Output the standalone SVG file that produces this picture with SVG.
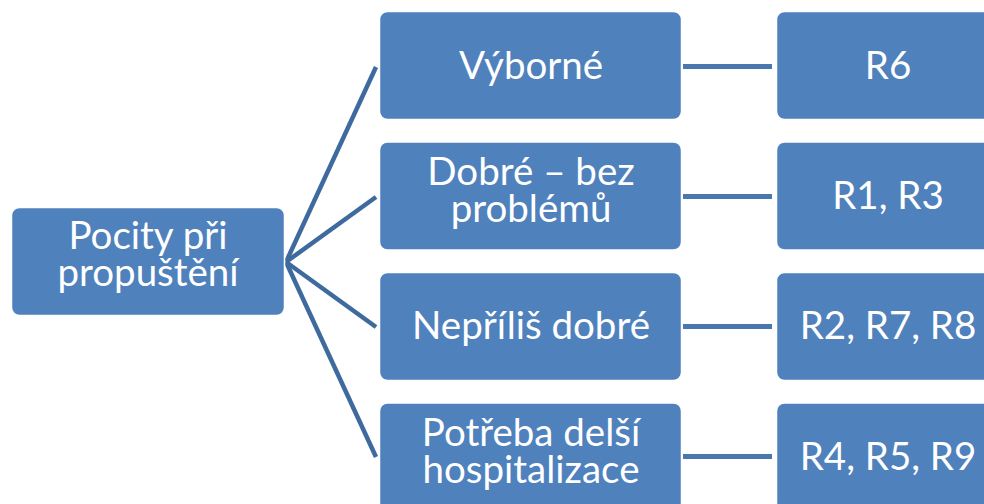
<svg xmlns="http://www.w3.org/2000/svg" width="984" height="504" viewBox="0 0 984 504">
  <style>
    .box { fill: #4f81bd; stroke: #ffffff; stroke-width: 1.5; }
    .lbl { fill: #ffffff; font-family: Lato, "Liberation Sans", sans-serif; font-size: 38.5px; text-anchor: middle; }
    .fan { stroke: #3e6a9d; stroke-width: 4.5; fill: none; stroke-linecap: butt; }
    .link { stroke: #4a77ae; stroke-width: 5; fill: none; }
  </style>
  <rect width="984" height="504" fill="#ffffff"/>

  <!-- connectors -->
  <g id="connectors">
    <line class="fan" x1="286" y1="262" x2="376" y2="67"/>
    <line class="fan" x1="286" y1="262" x2="376" y2="197"/>
    <line class="fan" x1="286" y1="262" x2="376" y2="327"/>
    <line class="fan" x1="286" y1="262" x2="376" y2="457"/>
    <line class="link" x1="683" y1="66.5" x2="772" y2="66.5"/>
    <line class="link" x1="683" y1="196.5" x2="772" y2="196.5"/>
    <line class="link" x1="683" y1="326.5" x2="772" y2="326.5"/>
    <line class="link" x1="683" y1="456.5" x2="772" y2="456.5"/>
  </g>

  <!-- root -->
  <g id="root">
    <rect class="box" x="11.5" y="207.5" width="273" height="108" rx="8"/>
    <text class="lbl" x="148" y="249">Pocity při<tspan x="148" dy="37">propuštění</tspan></text>
  </g>

  <!-- categories -->
  <g id="cat-vyborne">
    <rect class="box" x="379.5" y="11.5" width="302" height="108" rx="8"/>
    <text class="lbl" x="531" y="79">Výborné</text>
  </g>
  <g id="cat-dobre">
    <rect class="box" x="379.5" y="142" width="302" height="108" rx="8"/>
    <text class="lbl" x="531" y="185">Dobré – bez<tspan x="531" dy="37">problémů</tspan></text>
  </g>
  <g id="cat-neprilis">
    <rect class="box" x="379.5" y="272.5" width="302" height="108" rx="8"/>
    <text class="lbl" x="531" y="339">Nepříliš dobré</text>
  </g>
  <g id="cat-potreba">
    <rect class="box" x="379.5" y="403" width="302" height="108" rx="8"/>
    <text class="lbl" x="531" y="446">Potřeba delší<tspan x="531" dy="37">hospitalizace</tspan></text>
  </g>

  <!-- respondents -->
  <g id="resp-1">
    <rect class="box" x="776.5" y="11.5" width="230" height="108" rx="8"/>
    <text class="lbl" x="888" y="79">R6</text>
  </g>
  <g id="resp-2">
    <rect class="box" x="776.5" y="142" width="230" height="108" rx="8"/>
    <text class="lbl" x="888" y="209">R1, R3</text>
  </g>
  <g id="resp-3">
    <rect class="box" x="776.5" y="272.5" width="230" height="108" rx="8"/>
    <text class="lbl" x="888" y="339">R2, R7, R8</text>
  </g>
  <g id="resp-4">
    <rect class="box" x="776.5" y="403" width="230" height="108" rx="8"/>
    <text class="lbl" x="888" y="470">R4, R5, R9</text>
  </g>
</svg>
